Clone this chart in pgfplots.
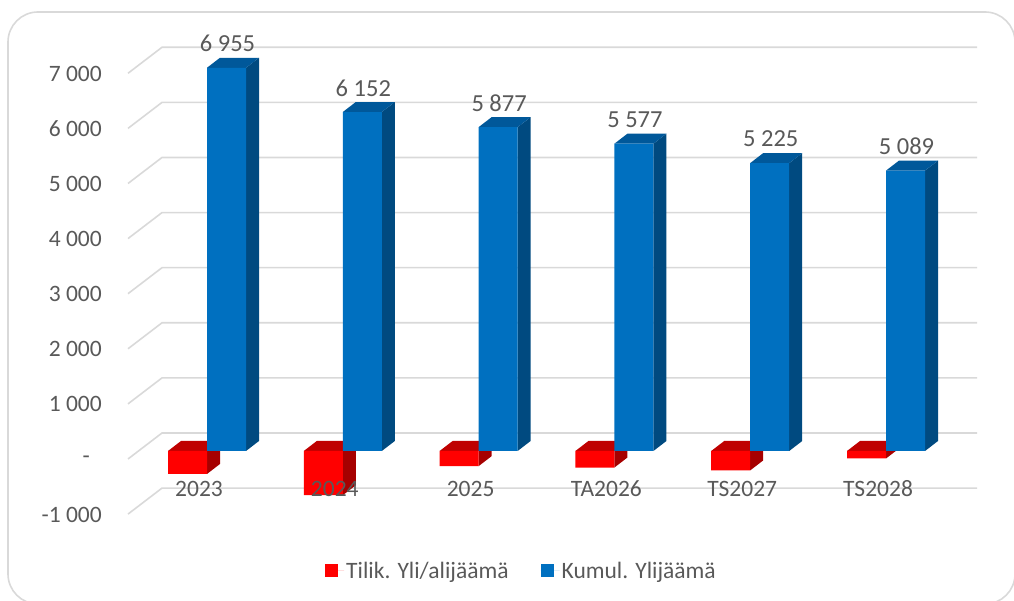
\documentclass[border=0pt]{standalone}
\usepackage{pgfplots}
\pgfplotsset{compat=1.18}
\usepackage{fontspec}
\setmainfont{Carlito}
\definecolor{tx}{HTML}{595959}
\definecolor{gr}{HTML}{D9D9D9}
\definecolor{bf}{HTML}{0070C0}
\definecolor{bs}{HTML}{004A80}
\definecolor{bt}{HTML}{00589A}
\definecolor{rf}{HTML}{FF0000}
\definecolor{rs}{HTML}{A60000}
\definecolor{rt}{HTML}{BF0000}
\newcommand{\gridk}[1]{%
  \pgfmathsetmacro{\ya}{#1-145.2}\pgfmathsetmacro{\yb}{#1+326.7}%
  \edef\tmp{\noexpand\addplot[gr,line width=1.6pt,forget plot] coordinates {(-0.5817,\ya) (-0.3314,\yb) (5.670,\yb)};}\tmp}
% #1 left x, #2 right x, #3 value, #4 top level, #5 side colour, #6 top colour
\newcommand{\depth}[6]{%
  \pgfmathsetmacro{\xa}{#2+0.0957}\pgfmathsetmacro{\xl}{#1+0.0957}%
  \pgfmathsetmacro{\yt}{#4+181.5}\pgfmathsetmacro{\yv}{#3+181.5}%
  \edef\tmp{\noexpand\addplot[fill=#5,draw=none,forget plot] coordinates {(#2,#3) (#2,#4) (\xa,\yt) (\xa,\yv)} --cycle;}\tmp
  \edef\tmp{\noexpand\addplot[fill=#6,draw=none,forget plot] coordinates {(#1,#4) (#2,#4) (\xa,\yt) (\xl,\yt)} --cycle;}\tmp}
\begin{document}
\begin{tikzpicture}
\path[use as bounding box,clip] (0,0) rectangle (1014pt,601pt);
\draw[gr,line width=1.6pt,rounded corners=30pt] (8pt,-3pt) rectangle (1015pt,589pt);
\begin{axis}[
  at={(0,0)},anchor=south west,
  scale only axis,width=1014pt,height=601pt,
  xmin=-1.5243,xmax=5.9426,ymin=-2722.3,ymax=8185,
  axis on top,
  axis line style={draw=none},tick style={draw=none},
  font=\fontsize{23.5}{28}\selectfont,
  /pgf/number format/assume math mode=true,
  /pgf/number format/1000 sep={\ },
  ytick={-1000,0,1000,2000,3000,4000,5000,6000,7000},
  yticklabels={-1 000,-\hphantom{0},1 000,2 000,3 000,4 000,5 000,6 000,7 000},
  yticklabel style={text=tx,anchor=east,xshift=102pt,yshift=-8.5pt,inner sep=0pt},
  xtick={0,1,2,3,4,5},
  xticklabels={2023,2024,2025,TA2026,TS2027,TS2028},
  xticklabel style={text=tx,anchor=base,xshift=-8pt,yshift=104pt,inner sep=0pt},
  legend style={at={(0.5143,0.05)},anchor=center,draw=none,fill=none,
    text=tx,font=\fontsize{23.5}{28}\selectfont,
    legend columns=2,
    /tikz/every even column/.append style={column sep=30pt}},
  legend cell align=left,
]
\gridk{-1000}\gridk{0}\gridk{1000}\gridk{2000}\gridk{3000}\gridk{4000}\gridk{5000}\gridk{6000}\gridk{7000}
% red depth faces
\depth{-0.2872}{0}{-417}{0}{rs}{rt}
\depth{0.7128}{1}{-803}{0}{rs}{rt}
\depth{1.7128}{2}{-275}{0}{rs}{rt}
\depth{2.7128}{3}{-300}{0}{rs}{rt}
\depth{3.7128}{4}{-352}{0}{rs}{rt}
\depth{4.7128}{5}{-136}{0}{rs}{rt}
\addplot[ybar,bar width=39pt,bar shift=-19.5pt,fill=rf,draw=none,
  legend image code/.code={\fill[rf] (0pt,-6pt) rectangle (13pt,7pt);\path (0pt,0pt) -- (19pt,0pt);}]
  coordinates {(0,-417) (1,-803) (2,-275) (3,-300) (4,-352) (5,-136)};
\addlegendentry{Tilik. Yli/alijäämä}
% blue depth faces
\depth{0}{0.2872}{0}{6955}{bs}{bt}
\depth{1}{1.2872}{0}{6152}{bs}{bt}
\depth{2}{2.2872}{0}{5877}{bs}{bt}
\depth{3}{3.2872}{0}{5577}{bs}{bt}
\depth{4}{4.2872}{0}{5225}{bs}{bt}
\depth{5}{5.2872}{0}{5089}{bs}{bt}
\addplot[ybar,bar width=39pt,bar shift=19.5pt,fill=bf,draw=none,
  nodes near coords,
  every node near coord/.append style={text=tx,anchor=center,yshift=24pt,xshift=20.5pt,inner sep=0pt,font=\fontsize{24.5}{28}\selectfont},
  legend image code/.code={\fill[bf] (0pt,-6pt) rectangle (13pt,7pt);\path (0pt,0pt) -- (19pt,0pt);}]
  coordinates {(0,6955) (1,6152) (2,5877) (3,5577) (4,5225) (5,5089)};
\addlegendentry{Kumul. Ylijäämä}
\end{axis}
\end{tikzpicture}
\end{document}
